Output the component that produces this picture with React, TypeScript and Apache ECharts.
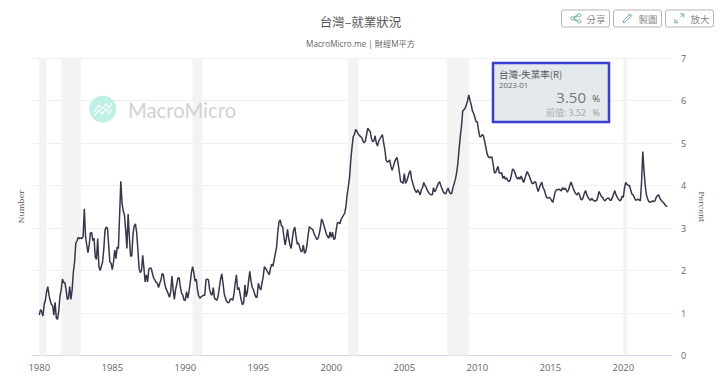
import React, { useEffect, useRef } from "react";
import * as echarts from "echarts";

const TITLE = "台灣–就業狀況";
const SUBTITLE = "MacroMicro.me | 財經M平方";
const SERIES_NAME = "台灣-失業率(R)";
const LAST_DATE = "2023-01";
const LAST_VALUE = "3.50";
const PREV_VALUE = "3.52";

const monthlyByYear: number[][] = [
  [0.95,1.08,1.03,0.93,1.2,1.3,1.5,1.62,1.42,1.28,1.2,1.17],
  [0.95,1.25,0.88,0.85,1.05,1.4,1.55,1.8,1.72,1.72,1.55,1.32],
  [1.35,1.62,1.32,1.55,1.97,2.2,2.64,2.7,2.78,2.75,2.77,2.75],
  [2.8,3.45,2.8,2.6,2.42,2.6,2.88,2.9,2.7,2.76,2.32,2.26],
  [2.75,2.09,2.0,2.1,2.2,2.5,2.95,3.02,3.0,2.6,2.2,2.17],
  [2.02,2.2,2.48,2.28,2.55,2.52,3.3,4.1,3.58,3.4,3.3,2.95],
  [2.52,3.33,2.8,2.34,2.34,2.85,3.05,3.1,2.9,2.5,2.05,1.95],
  [2.0,2.36,2.05,1.73,1.9,1.73,2.03,2.06,2.05,1.93,1.82,1.78],
  [1.72,1.7,1.6,1.7,1.78,1.93,1.9,1.7,1.58,1.52,1.45,1.37],
  [1.5,1.87,1.55,1.32,1.55,1.68,1.83,1.82,1.6,1.46,1.42,1.3],
  [1.3,1.5,1.35,1.5,1.7,1.95,2.09,1.95,1.75,1.8,1.55,1.4],
  [1.35,1.38,1.4,1.42,1.42,1.78,1.8,1.78,1.55,1.45,1.42,1.6],
  [1.35,1.32,1.3,1.4,1.6,1.8,1.92,1.7,1.45,1.35,1.28,1.24],
  [1.25,1.33,1.33,1.3,1.45,1.7,1.9,1.55,1.6,1.45,1.3,1.19],
  [1.25,1.66,1.38,1.5,1.75,1.98,1.75,1.6,1.55,1.45,1.37,1.37],
  [1.7,1.6,1.54,1.7,1.85,2.09,2.05,2.0,1.95,1.9,2.05,2.15],
  [2.1,2.25,2.4,2.55,2.9,3.15,3.19,3.05,3.03,2.8,2.6,2.75],
  [2.97,2.75,2.6,2.52,2.75,2.95,3.02,2.8,2.62,2.65,2.55,2.45],
  [2.45,2.6,2.4,2.45,2.6,2.85,3.03,3.0,2.98,2.95,2.85,2.8],
  [2.73,2.75,2.85,3.0,3.21,3.15,3.05,2.95,2.85,2.8,2.76,2.91],
  [2.78,2.9,2.73,2.75,2.95,3.12,3.13,3.1,3.2,3.25,3.3,3.35],
  [3.5,3.78,3.97,4.2,4.6,4.9,5.15,5.2,5.32,5.28,5.22,5.18],
  [5.15,5.13,5.05,5.0,5.05,5.2,5.35,5.3,5.27,5.1,5.03,5.05],
  [5.17,5.0,4.93,5.05,5.1,5.15,5.2,5.0,4.85,4.6,4.55,4.57],
  [4.6,4.45,4.36,4.45,4.55,4.62,4.66,4.5,4.3,4.09,4.08,4.05],
  [4.28,4.05,4.1,4.2,4.3,4.35,4.15,4.05,3.95,3.88,3.83,3.9],
  [3.85,3.78,3.9,3.95,4.07,4.0,3.95,3.88,3.83,3.8,3.78,3.78],
  [3.95,3.85,3.9,3.98,4.05,4.09,4.0,3.92,3.85,3.82,3.8,3.88],
  [3.94,3.85,3.8,3.82,3.95,4.05,4.15,4.3,4.52,4.85,5.15,5.4],
  [5.75,5.78,5.82,5.9,6.0,6.13,6.0,5.9,5.75,5.7,5.6,5.5],
  [5.5,5.3,5.15,5.15,5.2,5.17,5.04,4.9,4.75,4.68,4.65,4.67],
  [4.67,4.5,4.3,4.3,4.38,4.45,4.3,4.29,4.3,4.17,4.22,4.15],
  [4.18,4.12,4.09,4.13,4.25,4.39,4.36,4.3,4.2,4.15,4.2,4.15],
  [4.22,4.15,4.07,4.15,4.25,4.33,4.27,4.2,4.12,4.05,4.05,4.08],
  [4.08,3.95,3.86,3.95,4.02,4.08,3.95,3.9,3.8,3.72,3.7,3.72],
  [3.7,3.65,3.6,3.72,3.85,3.9,3.9,3.91,3.9,3.87,3.95,3.9],
  [3.94,3.9,3.84,3.9,4.0,4.08,4.0,3.92,3.85,3.8,3.78,3.83],
  [3.78,3.68,3.66,3.72,3.82,3.88,3.78,3.72,3.68,3.65,3.7,3.66],
  [3.64,3.63,3.65,3.72,3.86,3.8,3.74,3.72,3.66,3.64,3.68,3.7],
  [3.7,3.66,3.65,3.72,3.8,3.88,3.78,3.72,3.68,3.64,3.66,3.75],
  [3.72,3.95,4.07,4.03,4.0,4.0,3.9,3.8,3.78,3.72,3.66,3.66],
  [3.68,3.66,3.64,4.1,4.8,4.35,4.0,3.78,3.68,3.62,3.6,3.62],
  [3.64,3.62,3.64,3.72,3.76,3.78,3.7,3.66,3.62,3.6,3.56,3.52],
  [3.5],
];

const recessions: [string, string][] = [
  ["1980-01", "1980-07"],
  ["1981-07", "1982-11"],
  ["1990-07", "1991-03"],
  ["2001-03", "2001-11"],
  ["2007-12", "2009-06"],
  ["2020-01", "2020-04"],
];

const pad = (m: number) => (m < 10 ? "0" + m : "" + m);
const categories: string[] = [];
for (let m = 7; m <= 12; m++) categories.push("1979-" + pad(m));
for (let y = 1980; y <= 2022; y++) for (let m = 1; m <= 12; m++) categories.push(y + "-" + pad(m));
for (let m = 1; m <= 5; m++) categories.push("2023-" + pad(m));

const values: (number | null)[] = [
  ...Array(6).fill(null),
  ...monthlyByYear.flat(),
  ...Array(4).fill(null),
];

const FONT = '"Open Sans", "Noto Sans CJK TC", sans-serif';
const CJK = '"Noto Sans CJK TC", "Open Sans", sans-serif';
const SERIF = '"DejaVu Serif", serif';

const SHARE =
  "M11 0a2 2 0 1 1-1.7 3.1L4 5.6a2 2 0 0 1 0 .8l5.3 2.5A2 2 0 1 1 9 10L3.6 7.4a2 2 0 1 1 0-2.8L9 2A2 2 0 0 1 11 0z";
const PENCIL = "M9.5 0.5L11.5 2.5L3.5 10.5L0.5 11.5L1.5 8.5zM8.5 1.5L10.5 3.5";
const ARROWS = "M7 0.5H11.5V5M11.5 0.5L7.5 4.5M0.5 7V11.5H5M0.5 11.5L4.5 7.5";
const LOGO = "M0 10L5 3L8 7L12 2L15 6L18 1M0 14L5 8L8 12L12 7L15 11L18 7";
echarts.graphic.registerShape("iconShare", echarts.graphic.extendPath(SHARE, {}));
echarts.graphic.registerShape("iconPencil", echarts.graphic.extendPath(PENCIL, {}));
echarts.graphic.registerShape("iconArrows", echarts.graphic.extendPath(ARROWS, {}));
echarts.graphic.registerShape("logoMark", echarts.graphic.extendPath(LOGO, {}));

const buttons = [
  { x: 561.5, icon: "iconShare", label: "分享" },
  { x: 613.5, icon: "iconPencil", label: "製圖" },
  { x: 665.5, icon: "iconArrows", label: "放大" },
];

function text(x: number, y: number, t: string, size: number, fill: string, align = "left", family = FONT) {
  return {
    type: "text",
    x,
    y,
    z: 100,
    style: { text: t, fontSize: size, fill, align, verticalAlign: "middle", fontFamily: family },
  };
}

export default function App() {
  const ref = useRef<HTMLDivElement>(null);
  useEffect(() => {
    const chart = echarts.init(ref.current!, undefined, { renderer: "svg" });
    const buttonEls = buttons.flatMap((b) => [
      {
        type: "rect",
        z: 100,
        shape: { x: b.x, y: 10, width: 48, height: 17, r: 2 },
        style: { fill: "#fff", stroke: "#b4b4b4", lineWidth: 1 },
      },
      {
        type: b.icon,
        z: 100,
        x: b.x + 9,
        y: 13.5,
        scaleX: 0.8,
        scaleY: 0.8,
        style: { fill: "none", stroke: "#4f9d8c", lineWidth: 1 },
      },
      text(b.x + 25, 18.5, b.label, 9.5, "#888", "left", CJK),
    ]);
    chart.setOption({
      animation: false,
      grid: { left: 32, right: 48, top: 58, bottom: 21.5, containLabel: false },
      xAxis: {
        type: "category",
        data: categories,
        boundaryGap: false,
        axisLine: { lineStyle: { color: "#ccd6eb" } },
        axisTick: { show: false },
        splitLine: { show: false },
        axisLabel: {
          color: "#666",
          fontSize: 9.5,
          margin: 7,
          fontFamily: FONT,
          interval: (_: number, name: string) =>
            name.endsWith("-01") && Number(name.slice(0, 4)) % 5 === 0,
          formatter: (v: string) => v.slice(0, 4),
        },
      },
      yAxis: [
        {
          type: "value",
          position: "left",
          min: 0,
          max: 7,
          interval: 1,
          name: "Number",
          nameLocation: "middle",
          nameGap: 7,
          nameTextStyle: { color: "#555", fontSize: 8, fontFamily: SERIF },
          axisLabel: { show: false },
          axisLine: { show: false },
          axisTick: { show: false },
          splitLine: { show: true, lineStyle: { color: "#f0f0f0", width: 1 } },
        },
        {
          type: "value",
          position: "right",
          min: 0,
          max: 7,
          interval: 1,
          name: "Percent",
          nameLocation: "middle",
          nameGap: 22,
          nameRotate: -90,
          nameTextStyle: { color: "#555", fontSize: 8, fontFamily: SERIF },
          axisLabel: { color: "#666", fontSize: 9, margin: 9, fontFamily: FONT },
          axisLine: { show: false },
          axisTick: { show: false },
          splitLine: { show: false },
        },
      ],
      series: [
        {
          type: "line",
          name: SERIES_NAME,
          yAxisIndex: 1,
          data: values,
          showSymbol: false,
          symbol: "none",
          lineStyle: { color: "#36374c", width: 1.5 },
          markArea: {
            silent: true,
            itemStyle: { color: "#f3f3f3" },
            data: recessions.map(([a, b]) => [{ xAxis: a }, { xAxis: b }]),
          },
        },
      ],
      graphic: [
        text(360.5, 21, TITLE, 12.5, "#555", "center", CJK),
        text(360.5, 43, SUBTITLE, 8.2, "#666", "center"),
        { type: "circle", z: 5, shape: { cx: 102.7, cy: 109, r: 13.5 }, style: { fill: "#bff0e6" } },
        {
          type: "logoMark",
          z: 5,
          x: 94,
          y: 102,
          style: { fill: "none", stroke: "#fff", lineWidth: 1.2 },
        },
        {
          type: "text",
          z: 5,
          x: 128,
          y: 110,
          style: {
            text: "MacroMicro",
            fontSize: 20.3,
            fill: "#d2d2d2",
            verticalAlign: "middle",
            fontFamily: "Lato, sans-serif",
          },
        },
        {
          type: "rect",
          z: 100,
          shape: { x: 493, y: 63, width: 116, height: 59 },
          style: { fill: "#e4e9eb", stroke: "#3a3fd0", lineWidth: 2.5 },
        },
        text(499, 74, SERIES_NAME, 9.5, "#555", "left", CJK),
        text(499, 85, LAST_DATE, 7.8, "#666"),
        text(586, 96.5, LAST_VALUE, 15, "#777", "right"),
        text(600, 98, "%", 9.5, "#555", "right"),
        text(586, 112, "前值: " + PREV_VALUE, 9, "#aaa", "right", CJK),
        text(600, 112, "%", 9, "#999", "right"),
        ...buttonEls,
      ],
    });
    return () => chart.dispose();
  }, []);
  return (
    <div
      ref={ref}
      style={{ position: "absolute", left: 0, top: 0, width: 720, height: 377, background: "#fff" }}
    />
  );
}
